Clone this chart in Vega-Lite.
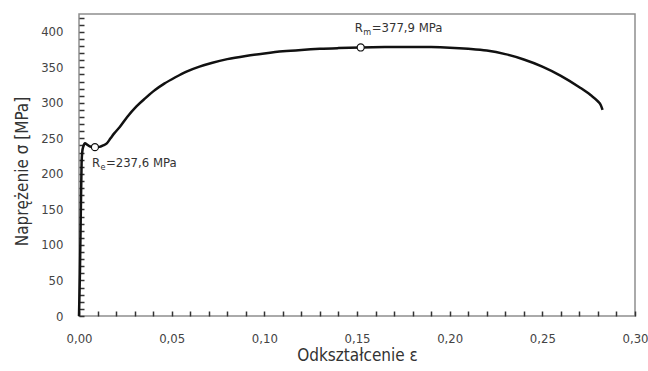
{
  "$schema": "https://vega.github.io/schema/vega-lite/v6.json",
  "width": 556,
  "height": 302,
  "autosize": {"type": "none"},
  "padding": {"left": 79, "top": 14, "right": 13, "bottom": 55},
  "background": "white",
  "config": {
    "view": {"stroke": "#8f8f8f", "strokeWidth": 1.5},
    "font": "DejaVu Sans Condensed",
    "axis": {
      "grid": false,
      "zindex": 1,
      "domain": false,
      "ticks": true,
      "tickColor": "#333",
      "tickWidth": 1.5,
      "tickOpacity": 1,
      "tickSize": 5,
      "labelColor": "#444",
      "labelFontSize": 13,
      "titleColor": "#333",
      "titleFontSize": 17,
      "titleFontWeight": "normal"
    }
  },
  "encoding": {
    "x": {
      "field": "e",
      "type": "quantitative",
      "scale": {"domain": [0, 0.3], "nice": false, "zero": true},
      "axis": {
        "orient": "bottom",
        "offset": -5,
        "title": "Odkształcenie ε",
        "values": [0, 0.01, 0.02, 0.03, 0.04, 0.05, 0.06, 0.07, 0.08, 0.09, 0.1, 0.11, 0.12, 0.13, 0.14, 0.15, 0.16, 0.17, 0.18, 0.19, 0.2, 0.21, 0.22, 0.23, 0.24, 0.25, 0.26, 0.27, 0.28, 0.29, 0.3],
        "labelExpr": "abs(datum.value*20 - round(datum.value*20)) < 0.000001 ? replace(format(datum.value, '.2f'), '.', ',') : ''",
        "ticks": true,
        "tickSize": 5,
        "labelPadding": 16,
        "labelBaseline": "top",
        "labelFlush": false,
        "labelOverlap": false,
        "titleX": 278,
        "titleY": 44,
        "titleBaseline": "middle",
        "titleAlign": "center"
      }
    },
    "y": {
      "field": "s",
      "type": "quantitative",
      "scale": {"domain": [0, 425], "nice": false, "zero": true},
      "axis": {
        "orient": "left",
        "offset": -5,
        "title": "Naprężenie σ [MPa]",
        "values": [0, 10, 20, 30, 40, 50, 60, 70, 80, 90, 100, 110, 120, 130, 140, 150, 160, 170, 180, 190, 200, 210, 220, 230, 240, 250, 260, 270, 280, 290, 300, 310, 320, 330, 340, 350, 360, 370, 380, 390, 400, 410, 420],
        "labelExpr": "datum.value % 50 == 0 ? format(datum.value, 'd') : ''",
        "ticks": true,
        "tickSize": 5,
        "labelPadding": 16,
        "labelFlush": false,
        "labelOverlap": false,
        "titleX": -62,
        "titleY": 157,
        "titleAngle": -90,
        "titleBaseline": "middle",
        "titleAlign": "center"
      }
    }
  },
  "layer": [
    {
      "data": {
        "values": [
          {"e": 0, "s": 0},
          {"e": 0.0005, "s": 60},
          {"e": 0.001, "s": 150},
          {"e": 0.0014, "s": 215},
          {"e": 0.0018, "s": 232},
          {"e": 0.0024, "s": 239},
          {"e": 0.0032, "s": 243},
          {"e": 0.0045, "s": 241},
          {"e": 0.006, "s": 238.5},
          {"e": 0.0086, "s": 237.6},
          {"e": 0.011, "s": 238},
          {"e": 0.013, "s": 240},
          {"e": 0.015, "s": 243},
          {"e": 0.017, "s": 250},
          {"e": 0.019, "s": 257},
          {"e": 0.022, "s": 266},
          {"e": 0.026, "s": 280},
          {"e": 0.031, "s": 295},
          {"e": 0.036, "s": 307},
          {"e": 0.041, "s": 318},
          {"e": 0.046, "s": 327},
          {"e": 0.052, "s": 336},
          {"e": 0.058, "s": 344},
          {"e": 0.065, "s": 351},
          {"e": 0.072, "s": 356.5},
          {"e": 0.08, "s": 361.5},
          {"e": 0.09, "s": 366},
          {"e": 0.1, "s": 369.5},
          {"e": 0.11, "s": 372.5},
          {"e": 0.12, "s": 374.5},
          {"e": 0.13, "s": 376},
          {"e": 0.14, "s": 377},
          {"e": 0.152, "s": 377.9},
          {"e": 0.165, "s": 378.4},
          {"e": 0.18, "s": 378.6},
          {"e": 0.19, "s": 378.4},
          {"e": 0.2, "s": 377.6},
          {"e": 0.21, "s": 376},
          {"e": 0.22, "s": 373.5},
          {"e": 0.23, "s": 368.5},
          {"e": 0.24, "s": 361},
          {"e": 0.25, "s": 351},
          {"e": 0.26, "s": 338},
          {"e": 0.27, "s": 322},
          {"e": 0.276, "s": 311},
          {"e": 0.28, "s": 302},
          {"e": 0.2815, "s": 297},
          {"e": 0.2825, "s": 290}
        ]
      },
      "mark": {"type": "line", "color": "#111", "strokeWidth": 2.5, "interpolate": "monotone"}
    },
    {
      "data": {"values": [{"e": 0.152, "s": 377.9}, {"e": 0.0086, "s": 237.6}]},
      "mark": {"type": "point", "filled": true, "fill": "white", "stroke": "#111", "strokeWidth": 1.2, "size": 50, "opacity": 1}
    },
    {
      "data": {"values": [{"e": 0.152, "s": 377.9, "label": "R"}]},
      "mark": {"type": "text", "align": "left", "baseline": "middle", "dx": -6, "dy": -19, "fontSize": 13, "color": "#333"},
      "encoding": {"text": {"field": "label"}}
    },
    {
      "data": {"values": [{"e": 0.152, "s": 377.9, "label": "m"}]},
      "mark": {"type": "text", "align": "left", "baseline": "middle", "dx": 2.5, "dy": -15, "fontSize": 9, "color": "#333"},
      "encoding": {"text": {"field": "label"}}
    },
    {
      "data": {"values": [{"e": 0.152, "s": 377.9, "label": "=377,9 MPa"}]},
      "mark": {"type": "text", "align": "left", "baseline": "middle", "dx": 11, "dy": -19, "fontSize": 13, "color": "#333"},
      "encoding": {"text": {"field": "label"}}
    },
    {
      "data": {"values": [{"e": 0.0086, "s": 237.6, "label": "R"}]},
      "mark": {"type": "text", "align": "left", "baseline": "middle", "dx": -3, "dy": 16, "fontSize": 13, "color": "#333"},
      "encoding": {"text": {"field": "label"}}
    },
    {
      "data": {"values": [{"e": 0.0086, "s": 237.6, "label": "e"}]},
      "mark": {"type": "text", "align": "left", "baseline": "middle", "dx": 5.5, "dy": 20, "fontSize": 9, "color": "#333"},
      "encoding": {"text": {"field": "label"}}
    },
    {
      "data": {"values": [{"e": 0.0086, "s": 237.6, "label": "=237,6 MPa"}]},
      "mark": {"type": "text", "align": "left", "baseline": "middle", "dx": 11, "dy": 16, "fontSize": 13, "color": "#333"},
      "encoding": {"text": {"field": "label"}}
    }
  ]
}
